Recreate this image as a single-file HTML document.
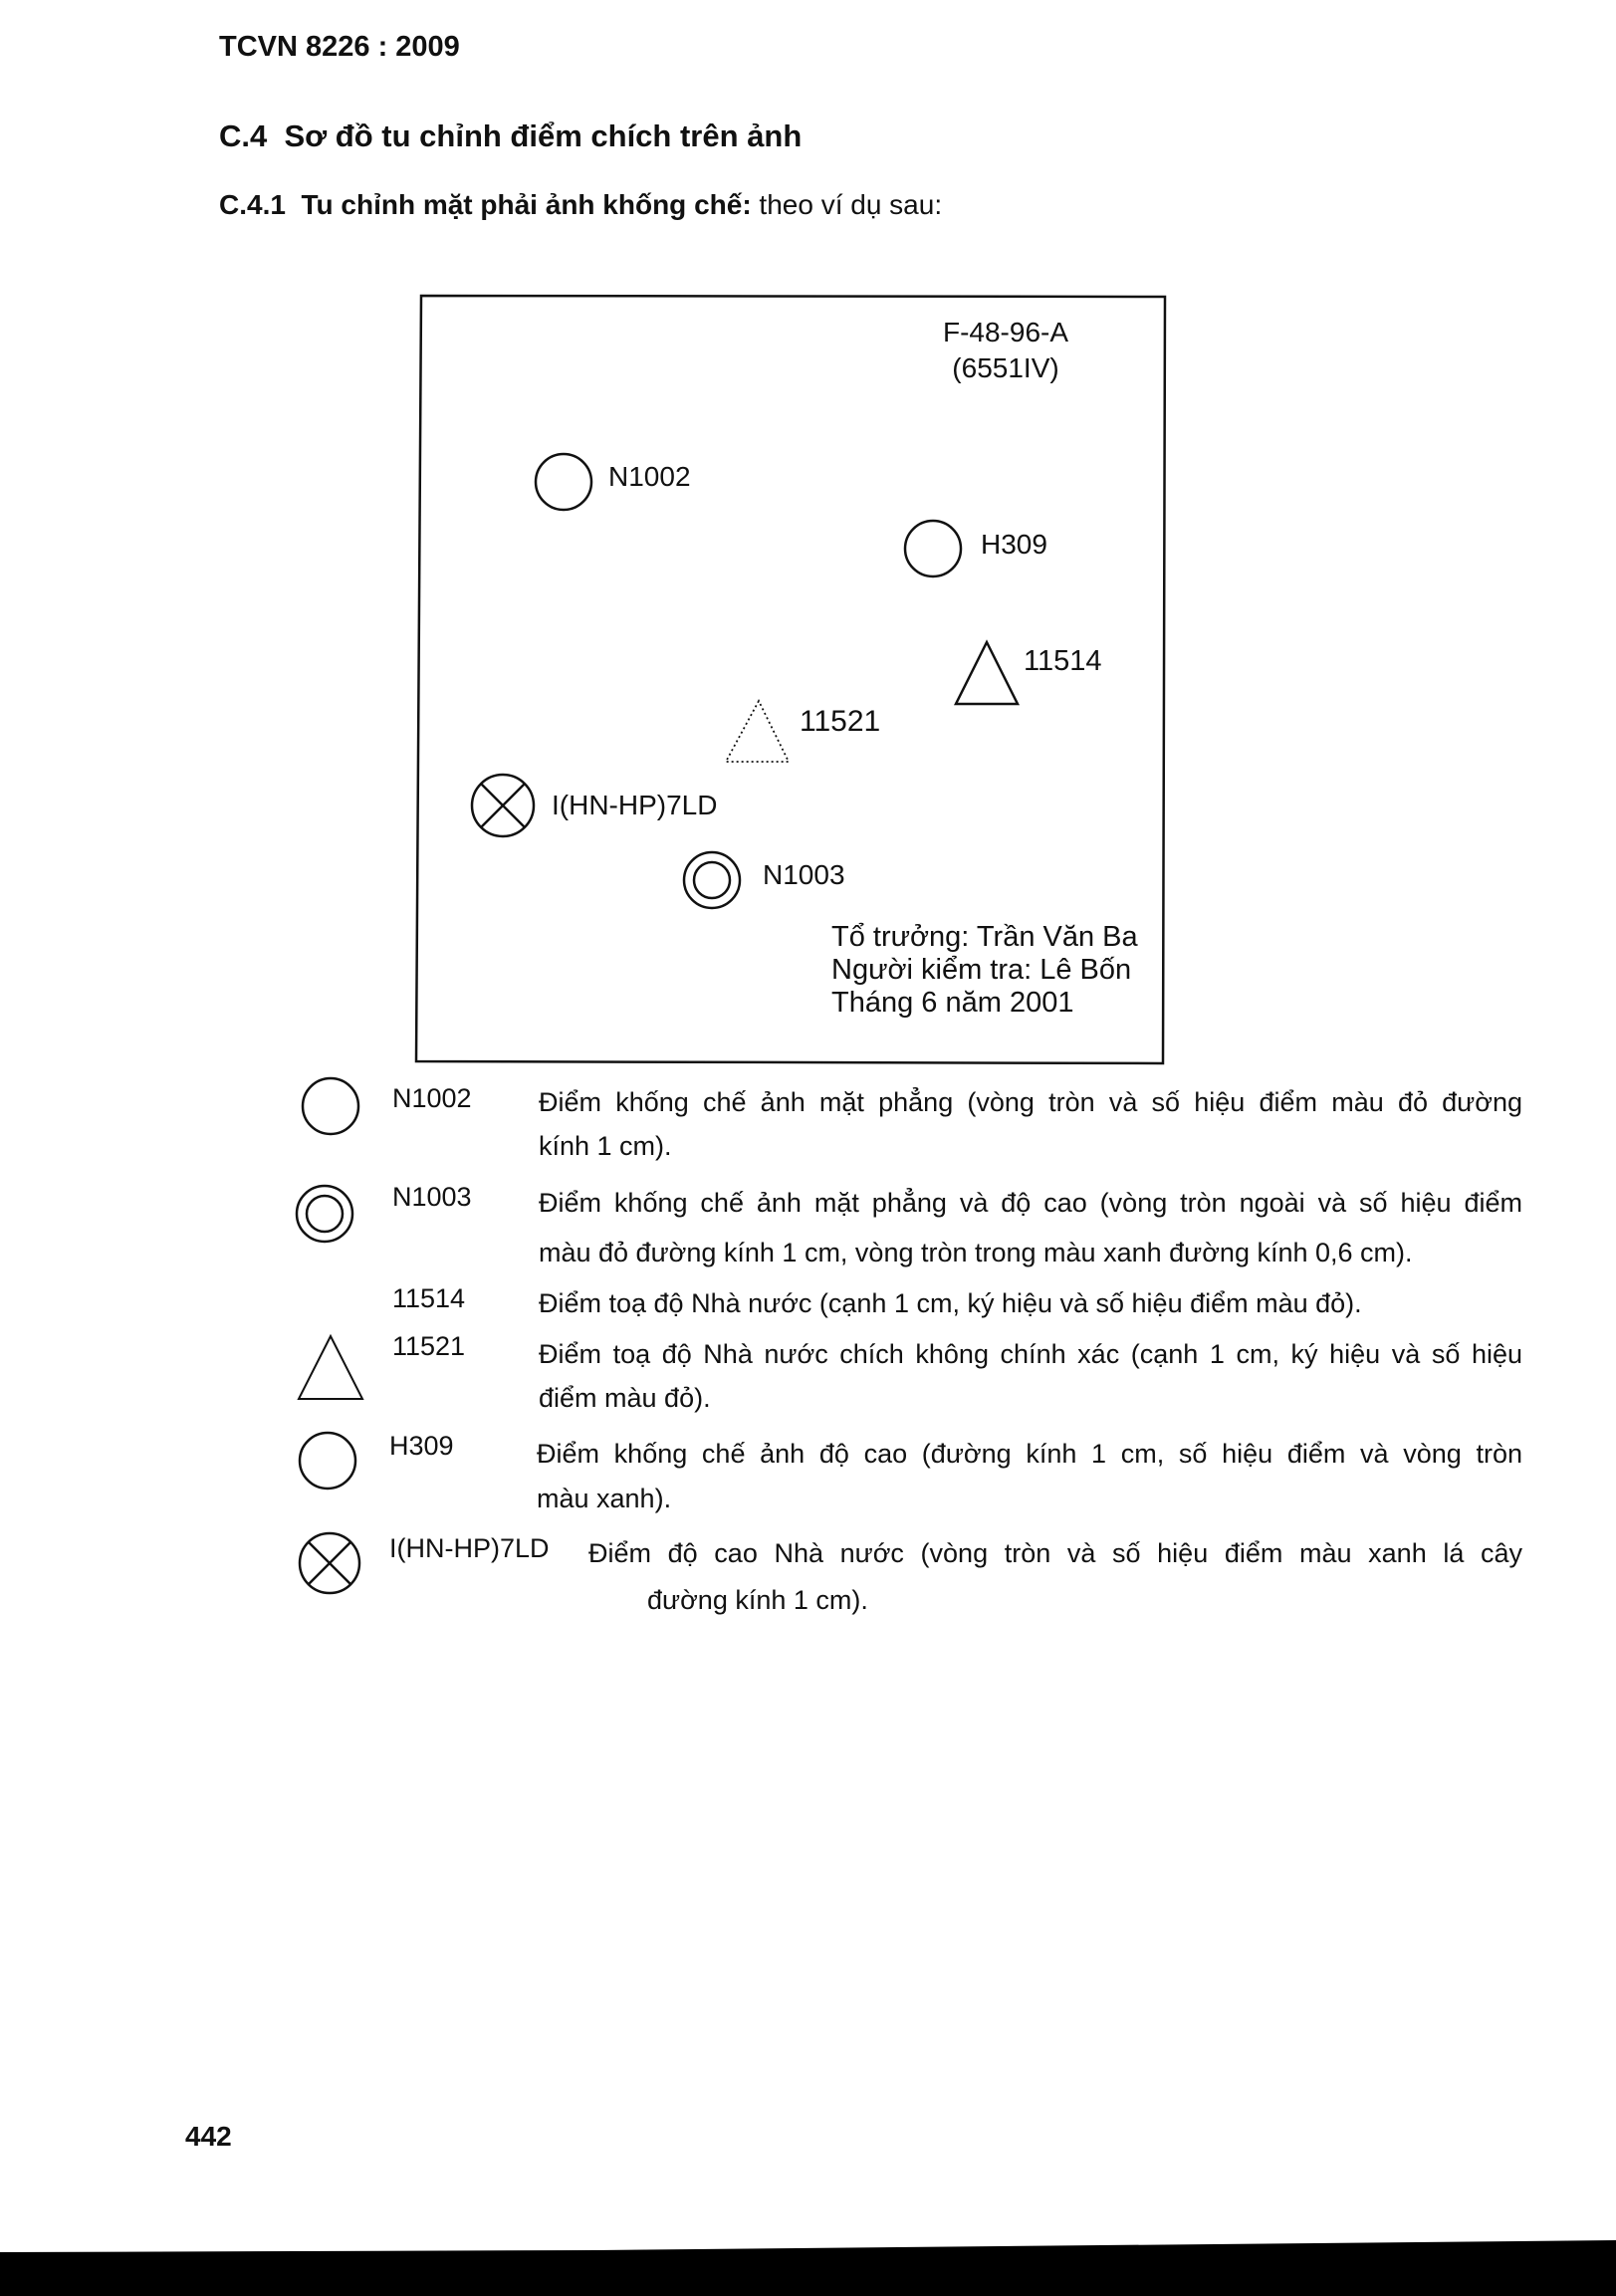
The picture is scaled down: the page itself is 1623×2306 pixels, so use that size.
<!DOCTYPE html>
<html><head><meta charset="utf-8"><style>
body{margin:0;width:1623px;height:2306px;background:#fff;position:relative;overflow:hidden;font-family:"Liberation Sans",Arial,sans-serif;color:#111}
.t{position:absolute;white-space:nowrap;line-height:1}
.j{position:absolute;line-height:1;text-align:justify;text-align-last:justify;white-space:nowrap}
</style></head><body>
<div class="t" style="left:220px;top:33px;font-size:29px;font-weight:bold">TCVN 8226 : 2009</div>
<div class="t" style="left:220px;top:121px;font-size:31px;font-weight:bold">C.4&nbsp;&nbsp;Sơ đồ tu chỉnh điểm chích trên ảnh</div>
<div class="t" style="left:220px;top:192px;font-size:28px"><b>C.4.1&nbsp;&nbsp;Tu chỉnh mặt phải ảnh khống chế:</b> theo ví dụ sau:</div>

<svg style="position:absolute;left:0;top:0" width="1623" height="2306">
<polygon points="423,297 1170,298 1168,1068 418,1066" fill="none" stroke="#111" stroke-width="2.5"/>
<g fill="none" stroke="#111" stroke-width="2.5">
<circle cx="566" cy="484" r="28"/>
<circle cx="937" cy="551" r="28"/>
<polygon points="991,645 960,707 1022,707"/>
<polygon points="762,704 729,765 792,765" stroke-dasharray="2,3" stroke-width="1.8"/>
<circle cx="505" cy="809" r="31"/>
<line x1="483" y1="787" x2="527" y2="831"/><line x1="527" y1="787" x2="483" y2="831"/>
<circle cx="715" cy="884" r="28"/><circle cx="715" cy="884" r="18"/>
<circle cx="332" cy="1111" r="28"/>
<circle cx="326" cy="1219" r="28"/><circle cx="326" cy="1219" r="18"/>
<polygon points="332,1342 300,1405 364,1405" stroke-width="2"/>
<circle cx="329" cy="1467" r="28"/>
<circle cx="331" cy="1570" r="30"/>
<line x1="310" y1="1549" x2="352" y2="1591"/><line x1="352" y1="1549" x2="310" y2="1591"/>
</g>
<polygon points="0,2262 600,2260 1623,2250 1623,2306 0,2306" fill="#000"/>
</svg>

<div class="t" style="left:940px;top:320px;font-size:28px;width:140px;text-align:center">F-48-96-A</div>
<div class="t" style="left:940px;top:356px;font-size:28px;width:140px;text-align:center">(6551IV)</div>
<div class="t" style="left:611px;top:465px;font-size:28px">N1002</div>
<div class="t" style="left:985px;top:533px;font-size:28px">H309</div>
<div class="t" style="left:1028px;top:650px;font-size:29px">11514</div>
<div class="t" style="left:803px;top:710px;font-size:30px">11521</div>
<div class="t" style="left:554px;top:795px;font-size:28px">I(HN-HP)7LD</div>
<div class="t" style="left:766px;top:865px;font-size:28px">N1003</div>
<div class="t" style="left:835px;top:927px;font-size:29px">Tổ trưởng: Trần Văn Ba</div>
<div class="t" style="left:835px;top:960px;font-size:29px">Người kiểm tra: Lê Bốn</div>
<div class="t" style="left:835px;top:993px;font-size:29px">Tháng 6 năm 2001</div>

<div class="t" style="left:394px;top:1090px;font-size:27px">N1002</div>
<div class="j" style="left:541px;top:1094px;width:988px;font-size:27px">Điểm khống chế ảnh mặt phẳng (vòng tròn và số hiệu điểm màu đỏ đường</div>
<div class="t" style="left:541px;top:1138px;font-size:27px">kính 1 cm).</div>
<div class="t" style="left:394px;top:1189px;font-size:27px">N1003</div>
<div class="j" style="left:541px;top:1195px;width:988px;font-size:27px">Điểm khống chế ảnh mặt phẳng và độ cao (vòng tròn ngoài và số hiệu điểm</div>
<div class="t" style="left:541px;top:1245px;font-size:27px">màu đỏ đường kính 1 cm, vòng tròn trong màu xanh đường kính 0,6 cm).</div>
<div class="t" style="left:394px;top:1291px;font-size:27px">11514</div>
<div class="t" style="left:541px;top:1296px;font-size:27px">Điểm toạ độ Nhà nước (cạnh 1 cm, ký hiệu và số hiệu điểm màu đỏ).</div>
<div class="t" style="left:394px;top:1339px;font-size:27px">11521</div>
<div class="j" style="left:541px;top:1347px;width:988px;font-size:27px">Điểm toạ độ Nhà nước chích không chính xác (cạnh 1 cm, ký hiệu và số hiệu</div>
<div class="t" style="left:541px;top:1391px;font-size:27px">điểm màu đỏ).</div>
<div class="t" style="left:391px;top:1439px;font-size:27px">H309</div>
<div class="j" style="left:539px;top:1447px;width:990px;font-size:27px">Điểm khống chế ảnh độ cao (đường kính 1 cm, số hiệu điểm và vòng tròn</div>
<div class="t" style="left:539px;top:1492px;font-size:27px">màu xanh).</div>
<div class="t" style="left:391px;top:1542px;font-size:27px">I(HN-HP)7LD</div>
<div class="j" style="left:591px;top:1547px;width:938px;font-size:27px">Điểm độ cao Nhà nước (vòng tròn và số hiệu điểm màu xanh lá cây</div>
<div class="t" style="left:650px;top:1594px;font-size:27px">đường kính 1 cm).</div>

<div class="t" style="left:186px;top:2132px;font-size:28px;font-weight:bold">442</div>
</body></html>
